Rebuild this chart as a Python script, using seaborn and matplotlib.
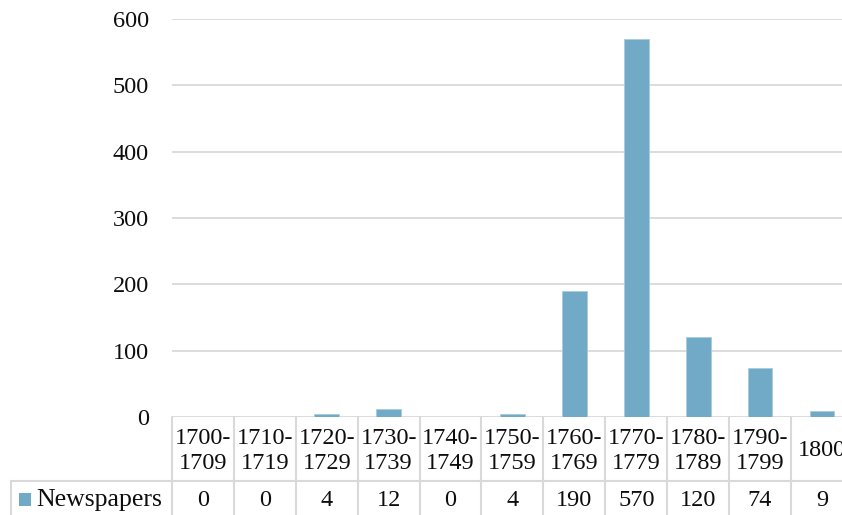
import matplotlib
matplotlib.use("Agg")
import matplotlib.pyplot as plt
import seaborn as sns
from matplotlib.transforms import blended_transform_factory
from matplotlib.patches import Rectangle

categories = ["1700-\n1709", "1710-\n1719", "1720-\n1729", "1730-\n1739", "1740-\n1749",
              "1750-\n1759", "1760-\n1769", "1770-\n1779", "1780-\n1789", "1790-\n1799", "1800"]
values = [0, 0, 4, 12, 0, 4, 190, 570, 120, 74, 9]
series_name = "Newspapers"
yticks = [0, 100, 200, 300, 400, 500, 600]

BAR = "#71AAC6"
GRID = "#D9D9D9"
TXT = "#0d0d0d"
FS = 17.5

sns.set_theme(style="white")
plt.rcParams['font.family'] = ['Liberation Serif', 'DejaVu Serif']

W, H = 842, 515
fig = plt.figure(figsize=(W / 100, H / 100), dpi=100)
col_w = 61.9
ax_left, ax_top, ax_bot = 172, 19, 417
ax = fig.add_axes([ax_left / W, (H - ax_bot) / H, (col_w * len(categories)) / W, (ax_bot - ax_top) / H])

sns.barplot(x=list(range(len(categories))), y=values, color=BAR, width=0.4, saturation=1,
            ax=ax, edgecolor="#A9CBDC", linewidth=0.6)
ax.set_xlim(-0.5, len(categories) - 0.5)
ax.set_ylim(0, 600)
ax.set_yticks(yticks)
ax.set_yticklabels([str(t) for t in yticks], fontsize=FS, color=TXT)
ax.tick_params(axis="y", length=0, pad=16.5)
ax.tick_params(axis="x", length=0, labelbottom=False)
ax.set_xlabel("")
ax.set_ylabel("")
for s in ax.spines.values():
    s.set_visible(False)
ax.yaxis.grid(True, color=GRID, linewidth=1.3)
ax.set_axisbelow(True)

tr = blended_transform_factory(ax.transData, ax.transAxes)
ph = ax_bot - ax_top

def ya(py):
    return (ax_bot - py) / ph

y_mid = ya(480.5)
y_end = ya(520)
# vertical table lines
for i in range(len(categories) + 1):
    ax.plot([i - 0.5, i - 0.5], [0, y_end], color=GRID, linewidth=1.5, transform=tr, clip_on=False)
# horizontal line between header row and value row
x_left = -0.5 + (11 - ax_left) / col_w
ax.plot([x_left, len(categories) + 1], [y_mid, y_mid], color=GRID, linewidth=1.5, transform=tr, clip_on=False)
ax.plot([x_left, x_left], [y_mid, y_end], color=GRID, linewidth=1.5, transform=tr, clip_on=False)

# header and values
for i, (c, v) in enumerate(zip(categories, values)):
    ax.text(i, ya(451), c, ha="center", va="center", fontsize=FS, linespacing=1.2,
            color=TXT, transform=tr, clip_on=False)
    ax.text(i, ya(500), str(v), ha="center", va="center", fontsize=FS,
            color=TXT, transform=tr, clip_on=False)

# legend key in table
fig.patches.append(Rectangle((19 / W, (H - 506) / H), 12 / W, 13 / H, transform=fig.transFigure,
                             facecolor=BAR, edgecolor="none"))
fig.text(36 / W, (H - 500) / H, series_name, ha="left", va="center", fontsize=18.5, color=TXT)

fig.savefig("out.png", dpi=100)
